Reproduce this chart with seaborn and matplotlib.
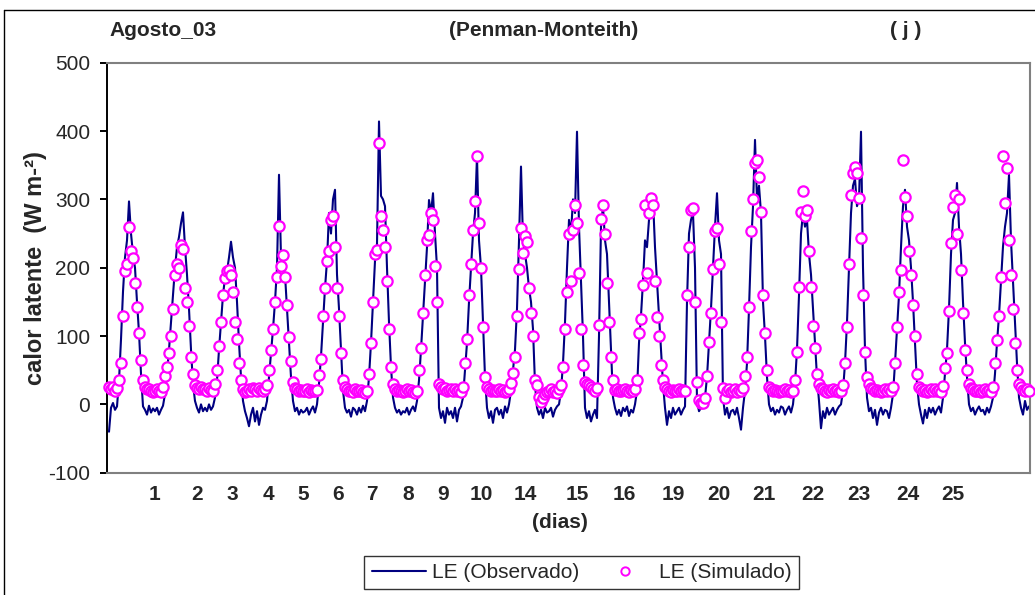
import numpy as np
import pandas as pd
import matplotlib
matplotlib.use("Agg")
import matplotlib.pyplot as plt
from matplotlib.lines import Line2D
import seaborn as sns

sns.set_theme(style="white")
plt.rcParams["font.family"] = ["Liberation Sans", "DejaVu Sans"]
plt.rcParams["axes.unicode_minus"] = False

# ---- data: hourly samples, one list per measured day (observed / simulated LE, W m-2)
obs_01 = [-40, -5, 2, -8, -3, 35, 95, 165, 215, 240, 297, 250, 220, 200, 150, 105, 45, -3, -8, -15, -2, -12, -6]
sim_01 = [25, 22, 26, 20, 24, 36, 61, 130, 195, 205, 259, 225, 214, 177, 143, 105, 65, 35, 25, 22, 23, 20, 18]
obs_02 = [-10, -5, -15, -8, -2, 15, 45, 80, 120, 160, 200, 230, 245, 265, 281, 230, 190, 140, 80, 30, 5, -5, -12, 0, -10]
sim_02 = [20, 22, 19, 18, 25, 41, 55, 75, 100, 140, 190, 205, 200, 233, 228, 170, 150, 115, 70, 45, 28, 24, 22, 25, 23]
obs_03 = [-5, -10, 0, -8, -3, 10, 35, 80, 120, 160, 185, 195, 215, 238, 215, 200, 150, 90, 40, 5, -10, -20, -32, -15, -5]
sim_03 = [22, 20, 24, 21, 19, 30, 50, 85, 120, 160, 185, 195, 197, 190, 165, 120, 95, 60, 35, 22, 18, 20, 22, 19, 24]
obs_04 = [-25, -10, -30, -15, -5, -8, 5, 40, 75, 110, 150, 200, 336, 215, 200, 190, 140, 90, 40, 5, -10, -5, -15, -8, -12]
sim_04 = [22, 20, 24, 21, 19, 22, 28, 50, 80, 111, 150, 187, 261, 202, 219, 187, 146, 99, 63, 33, 24, 22, 20, 21, 19]
obs_05 = [-10, -5, -15, -8, -3, -12, 0, 30, 70, 120, 170, 210, 280, 250, 300, 314, 190, 140, 80, 20, -5, -12, -8, -18, -5]
sim_05 = [20, 22, 18, 21, 19, 20, 21, 43, 67, 130, 170, 210, 225, 270, 275, 230, 170, 130, 75, 35, 26, 22, 20, 19, 18]
obs_06 = [-8, -15, -5, -12, -2, -10, 5, 40, 90, 150, 210, 235, 414, 305, 300, 290, 200, 120, 55, 10, -5, -12, -8, -15, -10]
sim_06 = [22, 20, 19, 21, 18, 17, 20, 45, 90, 150, 220, 226, 382, 275, 255, 231, 180, 110, 55, 30, 22, 20, 21, 19, 18]
obs_07 = [-12, -5, -15, -8, -3, -10, 5, 35, 80, 130, 180, 230, 299, 280, 309, 250, 200, -5, -20, -10, -27, -5, -15]
sim_07 = [20, 22, 19, 21, 18, 16, 20, 50, 82, 134, 190, 240, 248, 280, 270, 202, 150, 30, 25, 22, 24, 20, 21]
obs_08 = [-10, -20, -5, -25, -8, -3, 10, 50, 90, 150, 200, 250, 280, 363, 240, 200, 120, 40, -5, -20, -10, -27, -8]
sim_08 = [22, 20, 23, 19, 21, 18, 25, 60, 95, 160, 206, 255, 298, 364, 265, 200, 113, 40, 25, 22, 20, 21, 19]
obs_09 = [-5, -15, -8, -20, -3, -12, 0, 20, 50, 80, 140, 240, 348, 240, 220, 200, 170, 150, 110, 30, -5, -15, -8, -20, -5, -12]
sim_09 = [20, 22, 19, 21, 18, 20, 22, 31, 46, 70, 130, 198, 258, 221, 246, 237, 170, 134, 100, 35, 28, 11, 4, 10, 15, 18]
obs_10 = [-10, -5, -18, -8, -3, 0, 20, 60, 120, 200, 270, 250, 300, 280, 399, 260, 180, 100, -5, -20, -10, -25]
sim_10 = [20, 22, 18, 20, 17, 22, 28, 55, 110, 165, 250, 180, 255, 292, 265, 192, 110, 58, 33, 30, 28, 26]
obs_14 = [-15, -8, -20, 100, 260, 290, 240, 220, 150, 80, 10, -5, -15, -8, -17, -5]
sim_14 = [22, 20, 24, 116, 272, 292, 250, 178, 120, 70, 35, 21, 22, 20, 19, 21]
obs_15 = [-10, -3, -17, -8, -12, 0, 20, 90, 130, 180, 240, 230, 270, 285, 300, 230, 180, 130, 80, 30, -5, -30, -10, -20, -5, -15]
sim_15 = [22, 20, 18, 21, 19, 22, 35, 105, 125, 175, 292, 192, 280, 302, 292, 180, 128, 100, 58, 36, 26, 22, 20, 18, 21, 19]
obs_16 = [-10, -5, -15, -8, -3, 150, 250, 270, 280, 200, 5, -10, -5]
sim_16 = [20, 22, 19, 21, 20, 160, 230, 285, 287, 150, 33, 6, 2]
obs_19 = [0, 10, 40, 90, 140, 200, 260, 309, 240, 220, 10, -15, -5, -20, -10]
sim_19 = [2, 10, 41, 91, 133, 198, 253, 258, 206, 120, 24, 10, 20, 22, 18]
obs_20 = [-8, -15, -5, -20, -37, -5, 20, 60, 140, 230, 290, 387, 300, 320, 280, 150, 100, 40, 0, -10, -5, -15, -8, -12, -3]
sim_20 = [20, 22, 18, 21, 19, 24, 41, 70, 143, 253, 300, 353, 358, 333, 282, 160, 105, 50, 26, 22, 20, 21, 19, 18, 20]
obs_21 = [-5, -15, -8, -3, -12, 0, 30, 80, 160, 250, 280, 260, 270, 220, 190, 140, 90, 40, 5, -35, -10, -20, -5, -15]
sim_21 = [20, 22, 19, 21, 18, 20, 36, 77, 172, 282, 312, 275, 284, 225, 172, 115, 83, 45, 30, 24, 22, 20, 18, 21]
obs_22 = [-10, -5, -15, -8, -3, 0, 20, 60, 120, 200, 280, 320, 330, 290, 300, 399, 200, 80, 10, -10, -5, -20, -8, -30, -12, -5, -15, -8]
sim_22 = [20, 22, 19, 21, 18, 20, 28, 60, 113, 206, 307, 339, 348, 338, 302, 243, 160, 77, 40, 30, 24, 22, 20, 21, 19, 18, 20, 22]
obs_23 = [-10, -20, -5, 15, 60, 110, 160, 230, 290, 314, 260, 240, 200, 150, 90, 30, 0, -15, -28, -8, -20, -5, -12]
sim_23 = [20, 22, 19, 25, 61, 113, 165, 197, 358, 303, 276, 225, 190, 146, 100, 45, 26, 22, 20, 21, 18, 20, 22]
obs_24 = [-5, -15, -8, -3, -12, 10, 45, 80, 140, 220, 270, 280, 324, 260, 220, 150, 90, 40, 0, -10, -5, -15, -8, -3, -10]
sim_24 = [20, 22, 19, 21, 18, 27, 53, 75, 137, 236, 289, 307, 250, 300, 197, 134, 80, 50, 30, 24, 22, 20, 19, 21, 18]
obs_25 = [-8, -15, -5, -12, -3, 10, 45, 90, 130, 180, 231, 260, 280, 336, 240, 180, 120, 60, 10, -5, -15, 5, -8, -3]
sim_25 = [20, 22, 19, 21, 18, 25, 60, 94, 130, 187, 364, 294, 346, 240, 189, 140, 90, 50, 30, 26, 21, 20, 22, 19]

dias_labels = ["1", "2", "3", "4", "5", "6", "7", "8", "9", "10",
               "14", "15", "16", "19", "20", "21", "22", "23", "24", "25"]
# category-axis label positions (sample index), as placed in the original chart
dias_pos = [23, 44, 61.5, 79.5, 97, 114.5, 131.5, 149.5, 167, 186,
            208, 234, 257.5, 282, 305, 327.5, 352, 375, 399.5, 422]

obs_days = [obs_01, obs_02, obs_03, obs_04, obs_05, obs_06, obs_07, obs_08, obs_09, obs_10,
            obs_14, obs_15, obs_16, obs_19, obs_20, obs_21, obs_22, obs_23, obs_24, obs_25]
sim_days = [sim_01, sim_02, sim_03, sim_04, sim_05, sim_06, sim_07, sim_08, sim_09, sim_10,
            sim_14, sim_15, sim_16, sim_19, sim_20, sim_21, sim_22, sim_23, sim_24, sim_25]

obs = np.concatenate([np.asarray(d, float) for d in obs_days])
sim = np.concatenate([np.asarray(d, float) for d in sim_days])
df = pd.DataFrame({"t": np.arange(len(obs)), "obs": obs, "sim": sim})

W, H = 1035, 595
fig = plt.figure(figsize=(W / 100, H / 100), dpi=100)
L, R, T, B = 107, 1030, 62.7, 472.7
ax = fig.add_axes([L / W, 1 - B / H, (R - L) / W, (B - T) / H])

sns.lineplot(data=df, x="t", y="obs", ax=ax, color="#000080", linewidth=1.5,
             estimator=None, sort=False, zorder=2)
sns.scatterplot(data=df, x="t", y="sim", ax=ax, marker="o", s=55,
                facecolor="white", edgecolor="#FF00FF", linewidth=1.6,
                zorder=3, clip_on=False)

ax.set_xlim(-1, 460.5)
ax.set_ylim(-100, 500)
ax.set_yticks(range(-100, 501, 100))
ax.set_xticks(dias_pos)
ax.set_xticklabels(dias_labels, fontweight="bold", fontsize=15)
ax.tick_params(axis="x", length=0, pad=9, labelsize=15)
ax.tick_params(axis="y", direction="out", length=5, width=1.4, color="black",
               pad=7, labelsize=15, left=True)
ax.set_xlabel("")
ax.set_ylabel("")
ax.grid(False)
for s in ["top", "right", "bottom"]:
    ax.spines[s].set_color("#808080")
    ax.spines[s].set_linewidth(1.5)
ax.spines["left"].set_color("black")
ax.spines["left"].set_linewidth(1.4)

fig.text(163 / W, 1 - 30 / H, "Agosto_03", ha="center", va="center", fontsize=15, fontweight="bold")
fig.text(544 / W, 1 - 30 / H, "(Penman-Monteith)", ha="center", va="center", fontsize=15, fontweight="bold")
fig.text(906 / W, 1 - 30 / H, "( j )", ha="center", va="center", fontsize=15, fontweight="bold")
fig.text(36 / W, 1 - 268 / H, "calor latente  (W m-²)", rotation=90, ha="center", va="center",
         fontsize=17, fontweight="bold")
fig.text(560 / W, 1 - 523 / H, "(dias)", ha="center", va="center", fontsize=15, fontweight="bold")

handles = [Line2D([0], [0], color="#000080", lw=1.5),
           Line2D([0], [0], marker="o", ls="none", markersize=6, markerfacecolor="white",
                  markeredgecolor="#FF00FF", markeredgewidth=1.4)]
leg = fig.legend(handles, ["LE (Observado)", "LE (Simulado)"], loc="center",
                 bbox_to_anchor=(581.5 / W, 1 - 572.5 / H), ncol=2, frameon=True,
                 fancybox=False, edgecolor="black", fontsize=15, handlelength=2.6,
                 columnspacing=0.9, handletextpad=0.3, borderpad=0.35)
leg.get_frame().set_linewidth(1.0)

# chart-area border (left / top edges visible)
fig.add_artist(Line2D([4 / W, 4 / W], [0, 1 - 10 / H], transform=fig.transFigure, color="black", lw=1.0))
fig.add_artist(Line2D([4 / W, 1], [1 - 10 / H, 1 - 10 / H], transform=fig.transFigure, color="black", lw=1.0))

fig.savefig("out.png", dpi=100)
